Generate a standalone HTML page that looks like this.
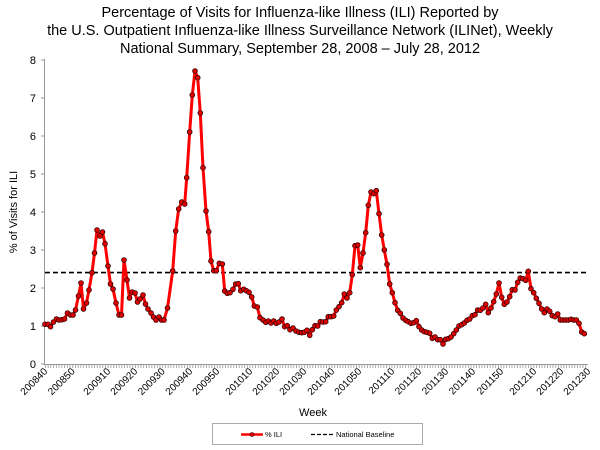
<!DOCTYPE html>
<html><head><meta charset="utf-8"><style>
body{margin:0;background:#fff;}
svg{display:block;font-family:"Liberation Sans",Arial,sans-serif;}
</style></head><body>
<svg width="600" height="450" viewBox="0 0 600 450" xmlns="http://www.w3.org/2000/svg">
<defs>
<marker id="dot" viewBox="-3 -3 6 6" markerWidth="6" markerHeight="6" markerUnits="userSpaceOnUse" refX="0" refY="0">
<circle r="2.4" fill="#e00000" stroke="#300" stroke-width="0.8"/>
</marker>
<pattern id="mt" x="45" y="0" width="2.7286" height="10" patternUnits="userSpaceOnUse">
<rect x="0" y="0" width="0.8" height="10" fill="#999"/>
</pattern>
</defs>
<g font-size="14.5" text-anchor="middle" fill="#000">
<text x="300" y="17">Percentage of Visits for Influenza-like Illness (ILI) Reported by</text>
<text x="300" y="35">the U.S. Outpatient Influenza-like Illness Surveillance Network (ILINet), Weekly</text>
<text x="300" y="53">National Summary, September 28, 2008 – July 28, 2012</text>
</g>
<!-- axes -->
<line x1="44.5" y1="59" x2="44.5" y2="365" stroke="#999" stroke-width="1"/>
<line x1="44" y1="364.5" x2="588" y2="364.5" stroke="#999" stroke-width="1"/>
<rect x="44" y="365" width="544" height="3" fill="url(#mt)"/>
<g stroke="#999">
<line x1="41" y1="364" x2="44" y2="364"/><line x1="41" y1="326" x2="44" y2="326"/>
<line x1="41" y1="288" x2="44" y2="288"/><line x1="41" y1="250" x2="44" y2="250"/>
<line x1="41" y1="212" x2="44" y2="212"/><line x1="41" y1="174" x2="44" y2="174"/>
<line x1="41" y1="136" x2="44" y2="136"/><line x1="41" y1="98" x2="44" y2="98"/>
<line x1="41" y1="60" x2="44" y2="60"/>
</g>
<g font-size="11" text-anchor="end" fill="#000">
<text x="36" y="368">0</text><text x="36" y="330">1</text><text x="36" y="292">2</text>
<text x="36" y="254">3</text><text x="36" y="216">4</text><text x="36" y="178">5</text>
<text x="36" y="140">6</text><text x="36" y="102">7</text><text x="36" y="64">8</text>
</g>
<text transform="translate(17,212) rotate(-90)" font-size="11" text-anchor="middle">% of Visits for ILI</text>
<g font-size="10" text-anchor="end" fill="#000">
<text transform="translate(48,372) rotate(-45)">200840</text>
<text transform="translate(75.5,372) rotate(-45)">200850</text>
<text transform="translate(111,372) rotate(-45)">200910</text>
<text transform="translate(138,372) rotate(-45)">200920</text>
<text transform="translate(165.5,372) rotate(-45)">200930</text>
<text transform="translate(193,372) rotate(-45)">200940</text>
<text transform="translate(220,372) rotate(-45)">200950</text>
<text transform="translate(253,372) rotate(-45)">201010</text>
<text transform="translate(280,372) rotate(-45)">201020</text>
<text transform="translate(307,372) rotate(-45)">201030</text>
<text transform="translate(335,372) rotate(-45)">201040</text>
<text transform="translate(362,372) rotate(-45)">201050</text>
<text transform="translate(395,372) rotate(-45)">201110</text>
<text transform="translate(422,372) rotate(-45)">201120</text>
<text transform="translate(449,372) rotate(-45)">201130</text>
<text transform="translate(476,372) rotate(-45)">201140</text>
<text transform="translate(504,372) rotate(-45)">201150</text>
<text transform="translate(537,372) rotate(-45)">201210</text>
<text transform="translate(564,372) rotate(-45)">201220</text>
<text transform="translate(591,372) rotate(-45)">201230</text>
</g>
<text x="313" y="416" font-size="11" text-anchor="middle">Week</text>
<!-- baseline -->
<line x1="45" y1="272.6" x2="588" y2="272.6" stroke="#000" stroke-width="1.6" stroke-dasharray="5,3"/>
<!-- series -->
<polyline fill="none" stroke="#ff0000" stroke-width="3" stroke-linejoin="round" marker-start="url(#dot)" marker-mid="url(#dot)" marker-end="url(#dot)" points="
45,324.3 48,324.3 50.5,326.7 53.5,322 56.5,319 59,320 62,319.7 64.5,319 67.5,313 70.5,315 73,315 75.5,310 78.5,296 81,283 83.5,309 86.5,303 89,290 92,272.7 94.5,253 97,230 100,236 102.5,232 105,243.7 108,266 110.5,284 113,289 116,303 119,315 121.5,315 124,260 127,280 129.5,298 132,292 135,293 137.5,302 140,299 143,295 145.5,304 148,309 151,313 153.5,317 156,320 159,317 161.5,320 164,320 167.5,308
172.7,271 175.7,231 178.7,209 181.7,202 184.7,204 186.7,177.7 189.7,132 192.3,95 195,71 197.7,77.7 200.3,113 203,167.7 206,211 208.7,231.7 211,261 213.7,270.7 216.3,270.7 219.3,263.3 222.3,264 224.7,291 227.3,293.3 230,292.7 233,289.3 235.7,284 238.3,283.7 240.7,290.7 243.7,289.3 246.3,290.7 249,292.3 251.7,297 254.3,306 257.3,307 260,317.7 263,320 265.7,322.3 268.3,321 271,323 273.7,321 276.3,323.3 279,322 282,319
284.7,326.7 287.3,325.7 290,329.7 293,328 296,331 299,332.3 301.7,332.7 304.3,332.3 307,330.3 309.7,335.3 312.3,329.7 315,325.7 317.7,326 320.3,321.7 323,322 325.7,321.7 328.3,316.7 331,316.7 333.7,316 336.3,310 339,306.7 341.7,302.7 344.3,294 347,298 349.7,292.7 352.3,274.7 355,245.7 357.7,245 360.3,267.7 363,253 365.7,232.7 368.3,205.3 371,192 373.7,193.7 376.3,190.7 379,213.7 381.7,235 384.3,250 387,264.3 389.7,284 392.3,292.7 395,302.7 397.7,310.3 400.3,313.3 403,318 405.7,320.3 408.3,321.7 411,323.3 413.7,322.7 416.3,320.7 419,326.7 421.7,330 424.3,331.7 427,332.3 429.7,333.3 432.3,338.3
435,337 437.7,339.7 440.3,339.7 443,344 445.7,339.3 448.3,338.7 451,337 453.7,333.7 456.3,330 459,326 461.7,324.7 464.3,323 467,320.3 469.7,319 472.3,315.7 475,314.7 477.7,310 480.3,310.3 483,308 485.7,304.3 488.3,312.7 491,308 493.7,301.7 496.3,294 499,283 501.7,297.3 504.3,304.3 507,302 509.7,296.7 512.3,289.7 515,290 517.7,282.3 520.3,278 523,278.7 525.7,280.3 528.3,271.3 531,288.7 533.7,292.7 536.3,298.3 539,303.3 541.7,309 544.3,312.7 547,309 549.7,311.3 552.3,315.7 555,316.7 557.7,314 560.3,320 563,320 565.7,320 568.3,320 571,319.3 573.7,320 576.3,320 579,323.3 581.7,332 584.3,333.7
"/>
<!-- legend -->
<rect x="212.5" y="423.5" width="210" height="21" fill="#fff" stroke="#aaa" stroke-width="1"/>
<line x1="241" y1="434.5" x2="263" y2="434.5" stroke="#ff0000" stroke-width="2.5"/>
<circle cx="252" cy="434.5" r="2" fill="#e00000" stroke="#300" stroke-width="0.6"/>
<text x="265" y="437" font-size="7.5">% ILI</text>
<line x1="311" y1="434.5" x2="334" y2="434.5" stroke="#000" stroke-width="1.3" stroke-dasharray="4,2"/>
<text x="336" y="437" font-size="7.5">National Baseline</text>
</svg>
</body></html>
